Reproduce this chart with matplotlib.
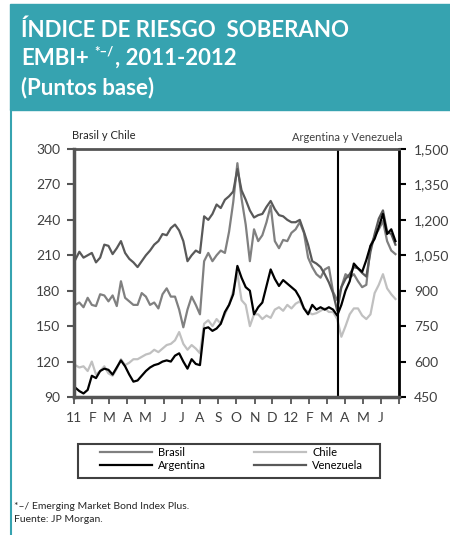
import matplotlib
matplotlib.use('Agg')
import matplotlib.pyplot as plt
import pandas as pd
from matplotlib.patches import Rectangle
from matplotlib.lines import Line2D
from matplotlib.ticker import FuncFormatter

plt.rcParams['font.family'] = ['Lato', 'DejaVu Sans']

# weekly readings, Jan 2011 - Jun 2012
weeks = pd.date_range('2011-01-03', periods=78, freq='7D')

# left axis (puntos base)
brasil = [168, 170, 166, 174, 168, 167, 177, 176, 171, 176,
          167, 188, 174, 171, 168, 168, 178, 175, 168, 170,
          165, 177, 182, 175, 175, 164, 149, 164, 175, 168,
          160, 205, 212, 205, 210, 214, 212, 230, 255, 288,
          258, 236, 205, 232, 222, 227, 238, 252, 222, 216,
          223, 222, 229, 232, 238, 229, 208, 200, 194, 191,
          198, 200, 179, 172, 183, 194, 191, 194, 188, 183,
          185, 218, 226, 232, 239, 222, 214, 211]
chile = [117, 115, 116, 112, 120, 109, 112, 116, 110, 108,
         114, 122, 117, 119, 122, 122, 124, 126, 127, 130,
         128, 131, 134, 135, 138, 145, 135, 130, 134, 131,
         127, 152, 155, 150, 156, 152, 160, 168, 180, 195,
         172, 168, 150, 160, 160, 156, 159, 157, 164, 166,
         163, 168, 165, 169, 171, 165, 162, 160, 161, 163,
         165, 162, 162, 156, 141, 150, 160, 165, 165, 159,
         156, 160, 178, 185, 194, 182, 177, 173]

# right axis (puntos base)
argentina = [490, 475, 465, 480, 540, 530, 560, 570, 565, 545,
             575, 605, 580, 545, 515, 520, 540, 560, 575, 585,
             590, 600, 605, 600, 625, 635, 600, 570, 610, 590,
             585, 740, 745, 730, 740, 760, 810, 840, 885, 1005,
             955, 915, 900, 800, 830, 850, 920, 990, 950, 920,
             945, 930, 915, 900, 870, 825, 800, 840, 820, 830,
             820, 830, 820, 795, 840, 900, 940, 1015, 995, 980,
             1030, 1090, 1120, 1170, 1225, 1140, 1160, 1110]
venezuela = [1030, 1065, 1040, 1050, 1060, 1020, 1040, 1095, 1090, 1055,
             1080, 1110, 1060, 1035, 1020, 1000, 1025, 1050, 1070, 1095,
             1110, 1140, 1135, 1165, 1180, 1155, 1110, 1025, 1050, 1070,
             1060, 1215, 1200, 1225, 1265, 1250, 1285, 1300, 1320, 1415,
             1325, 1285, 1240, 1210, 1220, 1225, 1255, 1280, 1245, 1220,
             1215, 1200, 1190, 1190, 1200, 1150, 1095, 1025, 1015, 1000,
             970, 935, 890, 815, 915, 950, 970, 1000, 995, 975,
             960, 1065, 1140, 1205, 1240, 1150, 1140, 1095]

month_labels = ['11', 'F', 'M', 'A', 'M', 'J', 'J', 'A', 'S', 'O', 'N', 'D',
                '12', 'F', 'M', 'A', 'M', 'J', '']
month_ticks = pd.date_range('2011-01-01', '2012-07-01', freq='MS')
marker_date = pd.Timestamp('2012-03-21')

W, H = 450, 535
teal = '#36a3b0'
axis_gray = '#555555'
text_gray = '#404040'


def fx(px):
    return px / W


def fy(py):
    return 1 - py / H


fig = plt.figure(figsize=(W / 100, H / 100), dpi=100)

# header band and left rule
fig.patches.append(Rectangle((fx(10), fy(110)), fx(440), 106 / H,
                             transform=fig.transFigure, color=teal, zorder=0))
fig.lines.append(Line2D([fx(11), fx(11)], [0, fy(110)], lw=1.5, color=teal,
                        transform=fig.transFigure))

title_kw = dict(color='white', fontweight='bold', fontsize=16, va='baseline', ha='left')
fig.text(fx(21), fy(37), 'ÍNDICE DE RIESGO  SOBERANO', **title_kw)
t = fig.text(fx(21), fy(65), 'EMBI+', **title_kw)
fig.text(fx(21), fy(94), '(Puntos base)', **title_kw)
renderer = fig.canvas.get_renderer()
x_end = t.get_window_extent(renderer).x1
sup = fig.text((x_end + 6) / W, fy(56), '*–/', color='white', fontweight='bold',
               fontsize=9.5, va='baseline', ha='left')
x_end = sup.get_window_extent(renderer).x1
fig.text((x_end + 1) / W, fy(65), ', 2011-2012', **title_kw)

# chart
ax = fig.add_axes([fx(74), fy(397), fx(399) - fx(74), fy(149) - fy(397)])
ax2 = ax.twinx()

ax.plot(weeks, chile, color='#c0c0c0', lw=1.6, label='Chile')
ax.plot(weeks, brasil, color='#808080', lw=1.6, label='Brasil')
ax2.plot(weeks, venezuela, color='#595959', lw=1.6, label='Venezuela')
ax2.plot(weeks, argentina, color='black', lw=1.6, label='Argentina')
ax2.axvline(marker_date, color='black', lw=1.5)

ax.set_xlim(pd.Timestamp('2011-01-01'), pd.Timestamp('2012-07-01'))
ax.set_ylim(90, 300)
ax.set_yticks(range(90, 301, 30))
ax2.set_ylim(450, 1500)
ax2.set_yticks(range(450, 1501, 150))
ax2.yaxis.set_major_formatter(FuncFormatter(lambda v, p: f'{v:,.0f}'))
ax.set_xticks(month_ticks)
ax.set_xticklabels(month_labels)

for a in (ax, ax2):
    for s in a.spines.values():
        s.set_visible(False)
for name, lw, col in [('left', 2.5, axis_gray), ('bottom', 2.5, axis_gray),
                      ('top', 2.0, axis_gray), ('right', 2.0, 'black')]:
    ax2.spines[name].set_visible(True)
    ax2.spines[name].set_linewidth(lw)
    ax2.spines[name].set_color(col)

ax.tick_params(axis='y', direction='out', length=5, width=1.5, color=axis_gray,
               labelsize=10, labelcolor=text_gray, pad=5)
ax.tick_params(axis='x', direction='out', length=5, width=1.3, color=axis_gray,
               labelsize=10, labelcolor=text_gray, pad=6)
ax2.tick_params(axis='y', direction='out', length=5, width=1.5, color='black',
                labelsize=10, labelcolor=text_gray, pad=6)

fig.text(fx(72), fy(139), 'Brasil y Chile', fontsize=8, color='#262626')
fig.text(fx(403), fy(141), 'Argentina y Venezuela', fontsize=8, color=text_gray, ha='right')

# legend box
fig.patches.append(Rectangle((fx(78), fy(478)), fx(302), 34 / H, transform=fig.transFigure,
                             fill=False, edgecolor=text_gray, lw=1.5))
h = {l.get_label(): l for l in ax.get_lines() + ax2.get_lines()}
order = ['Brasil', 'Argentina', 'Chile', 'Venezuela']
fig.legend([h[k] for k in order], order, ncol=2, loc='upper left',
           bbox_to_anchor=(fx(100), fy(447)), frameon=False, fontsize=8,
           handlelength=4.7, handletextpad=0.55, columnspacing=4.3,
           labelspacing=0.15, borderpad=0, borderaxespad=0)

fig.text(fx(14), fy(509), '*–/ Emerging Market Bond Index Plus.', fontsize=7.5, color='#262626')
fig.text(fx(14), fy(522), 'Fuente: JP Morgan.', fontsize=7.5, color='#262626')

fig.savefig('out.png', dpi=100)
